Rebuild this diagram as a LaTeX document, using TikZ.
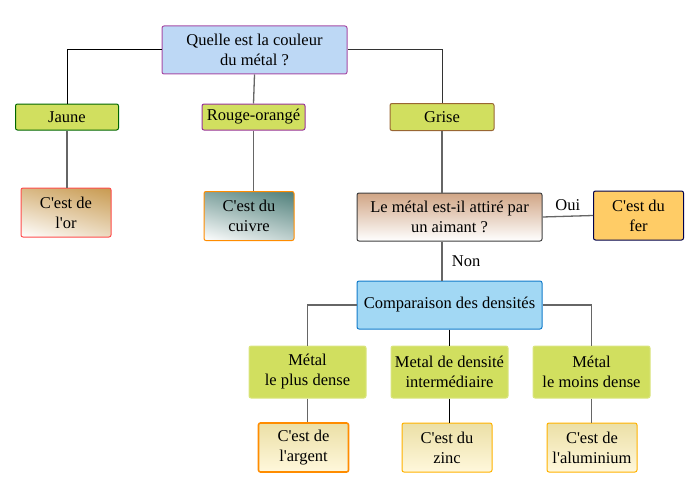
\documentclass[tikz,border=0pt]{standalone}
\usepackage{fontspec}
\setmainfont{Liberation Serif}[Ligatures=TeXOff]
\usepackage{tikz}
\usetikzlibrary{positioning,shadings}
\definecolor{leaf}{HTML}{D1DF5F}
\definecolor{skyq}{HTML}{BDD8F5}
\definecolor{skyc}{HTML}{A2D8F4}
\definecolor{ferfill}{HTML}{FFCC66}
\definecolor{orfill}{HTML}{C89A50}
\definecolor{cufill}{HTML}{4F7F7A}
\definecolor{agfill}{HTML}{EBDFA6}
\definecolor{agbot}{HTML}{FFF8DC}
\definecolor{aimfill}{HTML}{D0A585}
\tikzset{box/.style={draw,rounded corners=2pt,inner sep=0pt,align=center,
    font=\fontsize{16.5}{20}\selectfont,line width=1pt},
  answer/.style={box,minimum width=103pt,minimum height=26pt,fill=leaf},
  result/.style={box,minimum width=90pt,minimum height=49pt},
  question/.style={box,minimum width=185pt,minimum height=48pt},
  density/.style={box,minimum width=117pt,minimum height=52pt,fill=leaf,draw=leaf!80!white},
  metal/.style={result,draw=orange!90!yellow,top color=agfill,bottom color=agbot},
  corner/.style={result,upper right=#1,upper left=#1!70!white,lower right=#1!35!white,lower left=white},
  link/.style={draw=black!60,line width=1.3pt}}

\begin{document}
\begin{tikzpicture}[x=1pt,y=-1pt]
  \useasboundingbox (0,0) rectangle (700,500);

  \node [question,fill=skyq,draw=violet!70!white] (couleur) at (254.5,50) {Quelle est la couleur\\du métal ?};

  \node [answer,draw=green!40!black] (jaune) at (67,117) {Jaune};
  \node [answer,draw=violet!80!white] (rouge) at (253.5,117) {Rouge-orangé};
  \node [answer,draw=brown!80!black,minimum width=104pt,minimum height=27pt] (grise) at (442,117) {Grise};

  \node [corner=orfill,draw=red!70!white] (or) at (66,212.5) {C'est de\\l'or};
  \node [corner=cufill,draw=orange!90!yellow] (cuivre) at (249,216) {C'est du\\cuivre};
  \node [question,draw=black!75,top color=aimfill,bottom color=white] (aimant) at (449.5,217) {Le métal est-il attiré par\\un aimant ?};
  \node [result,fill=ferfill,draw=blue!30!black] (fer) at (638.5,215.5) {C'est du\\fer};

  \node [question,fill=skyc,draw=cyan!60!blue] (densite) at (449.5,305) {Comparaison des densités};

  \node [density] (dense) at (307.5,372) {Métal\\le plus dense};
  \node [density] (moyen) at (449.5,372) {Metal de densité\\intermédiaire};
  \node [density] (leger) at (591.5,372) {Métal\\le moins dense};

  \node [metal,line width=1.6pt] (argent) at (303.5,447.5) {C'est de\\l'argent};
  \node [metal,draw=orange!60!yellow] (zinc) at (447,447.5) {C'est du\\zinc};
  \node [metal,draw=orange!60!yellow] (alu) at (592,447.5) {C'est de\\l'aluminium};

  % first level
  \draw [link,draw=black,line width=1pt] (couleur.west) -| (jaune.north);
  \draw [link] (couleur.south) -- (rouge.north);
  \draw [link,draw=black!80,line width=1pt] (couleur.east) -| (grise.north);

  \draw [link] (jaune.south) -- (jaune.south |- or.north);
  \draw [link] (rouge.south) -- (rouge.south |- cuivre.north);
  \draw [link] (grise.south) -- (grise.south |- aimant.north);

  \draw [link] (aimant.east) -- node[above,font=\fontsize{16.5}{20}\selectfont,yshift=2pt] {Oui} (fer.west);
  \draw [link] (grise.south |- aimant.south) -- node[right,font=\fontsize{16.5}{20}\selectfont,xshift=6pt] {Non} (grise.south |- densite.north);

  % densities
  \draw [link] (densite.west) -| (dense.north);
  \draw [link,draw=black,line width=1pt] (densite.south) -- (moyen.north);
  \draw [link] (densite.east) -| (leger.north);

  \draw [link] (dense.south) -- (dense.south |- argent.north);
  \draw [link,draw=black,line width=1pt] (moyen.south) -- (moyen.south |- zinc.north);
  \draw [link] (leger.south) -- (leger.south |- alu.north);

\end{tikzpicture}
\end{document}
